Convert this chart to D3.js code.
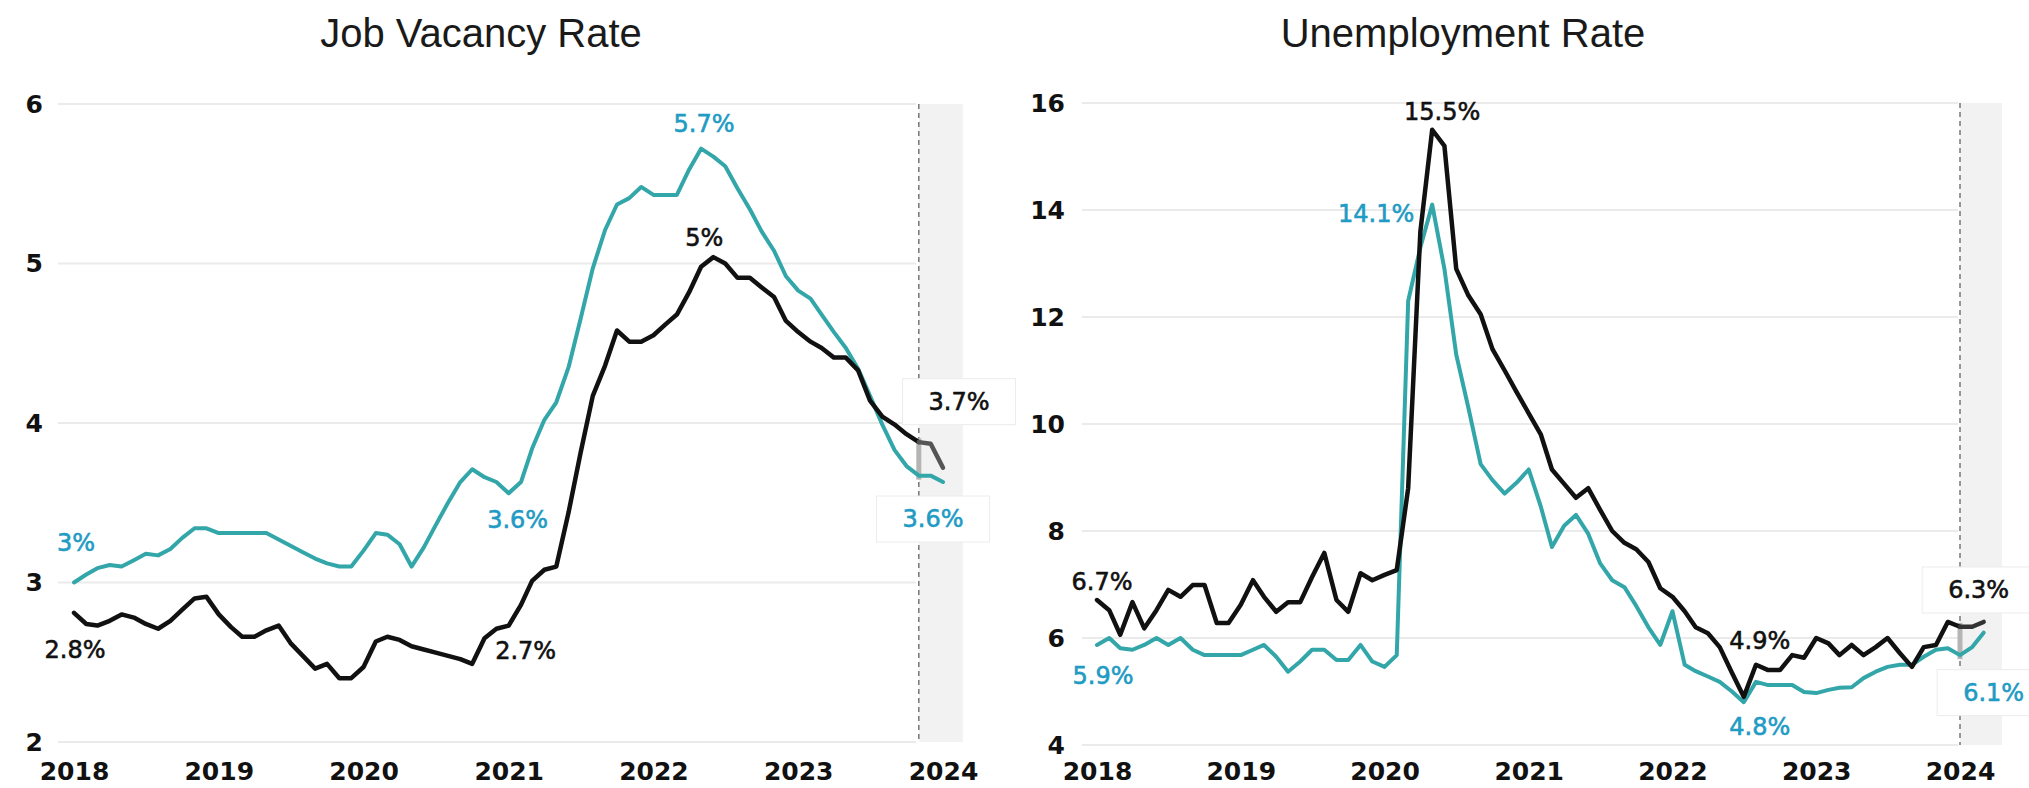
<!DOCTYPE html>
<html>
<head>
<meta charset="utf-8">
<script src="https://cdn.jsdelivr.net/npm/d3@7"></script>
<style>
  body { margin: 0; background: #fff; }
  svg text { font-family: "DejaVu Sans", sans-serif; }
  .title { font-family: "Liberation Sans", Arial, sans-serif; font-size: 40px; fill: #1a1a1a; }
  .tick text { font-family: "DejaVu Sans", sans-serif; font-weight: bold; font-size: 25px; fill: #111; }
  .lbl { font-size: 24px; }
</style>
</head>
<body>
<svg id="chart" width="2029" height="788"></svg>
<script>
// monthly values, starting Jan 2018
var vacancyTeal = [3.00,3.05,3.09,3.11,3.10,3.14,3.18,3.17,3.21,3.28,
  3.34,3.34,3.31,3.31,3.31,3.31,3.31,3.27,3.23,3.19,
  3.15,3.12,3.10,3.10,3.20,3.31,3.30,3.24,3.10,3.22,
  3.36,3.50,3.63,3.71,3.66,3.63,3.56,3.63,3.84,4.02,
  4.13,4.35,4.65,4.97,5.21,5.37,5.41,5.48,5.43,5.43,
  5.43,5.59,5.72,5.67,5.61,5.47,5.34,5.20,5.08,4.92,
  4.83,4.78,4.68,4.57,4.47,4.34,4.17,3.99,3.83,3.73,
  3.67,3.67,3.63];
var vacancyBlack = [2.81,2.74,2.73,2.76,2.80,2.78,2.74,2.71,2.76,2.83,
  2.90,2.91,2.80,2.72,2.66,2.66,2.70,2.73,2.62,2.54,
  2.46,2.49,2.40,2.40,2.47,2.63,2.66,2.64,2.60,2.58,
  2.56,2.54,2.52,2.49,2.65,2.71,2.73,2.86,3.01,3.08,
  3.10,3.44,3.81,4.17,4.36,4.58,4.51,4.51,4.55,4.62,
  4.68,4.82,4.98,5.04,5.00,4.91,4.91,4.85,4.79,4.64,
  4.57,4.51,4.47,4.41,4.41,4.33,4.14,4.04,3.99,3.93,
  3.88,3.87,3.72];
var unempTeal = [5.87,6.00,5.81,5.78,5.87,6.00,5.87,6.00,5.78,5.68,
  5.68,5.68,5.68,5.78,5.87,5.65,5.37,5.56,5.78,5.78,
  5.59,5.59,5.87,5.56,5.46,5.68,12.3,13.3,14.1,12.9,
  11.3,10.3,9.25,8.95,8.7,8.9,9.15,8.45,7.7,8.1,
  8.3,7.95,7.4,7.08,6.95,6.6,6.2,5.87,6.5,5.5,
  5.38,5.28,5.18,5.0,4.8,5.18,5.12,5.12,5.12,4.99,
  4.97,5.03,5.07,5.08,5.25,5.37,5.46,5.5,5.5,5.65,
  5.78,5.81,5.68,5.83,6.1];
var unempBlack = [6.71,6.52,6.06,6.67,6.18,6.52,6.90,6.77,6.99,6.99,
  6.28,6.28,6.62,7.08,6.77,6.49,6.67,6.67,7.14,7.59,
  6.71,6.49,7.21,7.08,7.18,7.27,8.8,13.6,15.5,15.2,
  12.9,12.4,12.05,11.4,11.0,10.6,10.2,9.8,9.15,8.88,
  8.62,8.8,8.4,8.0,7.78,7.66,7.42,6.93,6.77,6.5,
  6.2,6.09,5.83,5.35,4.9,5.5,5.4,5.4,5.68,5.63,
  6.0,5.9,5.68,5.87,5.68,5.83,6.0,5.72,5.46,5.83,
  5.87,6.3,6.21,6.21,6.3];

var titles = ["Job Vacancy Rate", "Unemployment Rate"];
var vacancyTicks = [2, 3, 4, 5, 6];
var unempTicks = [4, 6, 8, 10, 12, 14, 16];

// annotations: [series, month index, text]
var vacancyLabels = [["teal",0,"3%"],["black",0,"2.8%"],["teal",36,"3.6%"],["black",36,"2.7%"],
  ["teal",52,"5.7%"],["black",53,"5%"],["black",72,"3.7%"],["teal",72,"3.6%"]];
var unempLabels = [["black",28,"15.5%"],["teal",28,"14.1%"],["black",0,"6.7%"],["teal",0,"5.9%"],
  ["black",54,"4.9%"],["teal",54,"4.8%"],["black",74,"6.3%"],["teal",74,"6.1%"]];

var TEAL = "#33a6a9", TEAL_TXT = "#1f9bc4", INK = "#111";
var svg = d3.select("#chart");

function month(i) { return new Date(2018, i, 1); }

function panel(cfg) {
  var x = d3.scaleTime().domain([month(0), month(72)]).range(cfg.xr);
  var y = d3.scaleLinear().domain(cfg.yd).range(cfg.yr);
  var g = svg.append("g");

  g.append("text").attr("class", "title").attr("x", cfg.titleX).attr("y", 47)
    .attr("text-anchor", "middle").text(cfg.title);

  // gridlines
  g.selectAll(".grid").data(cfg.ticks).enter().append("line")
    .attr("x1", cfg.gridX[0]).attr("x2", cfg.gridX[1])
    .attr("y1", d => y(d)).attr("y2", d => y(d))
    .attr("stroke", "#ebebeb").attr("stroke-width", 2);

  // shaded latest period + dashed marker
  var xm = x(month(cfg.mark));
  g.append("rect").attr("x", xm).attr("y", y(cfg.yd[1]))
    .attr("width", cfg.bandW).attr("height", y(cfg.yd[0]) - y(cfg.yd[1]))
    .attr("fill", "#f2f2f2");
  g.append("line").attr("x1", xm).attr("x2", xm)
    .attr("y1", y(cfg.yd[1])).attr("y2", y(cfg.yd[0]))
    .attr("stroke", "#777").attr("stroke-width", 1.5).attr("stroke-dasharray", "5,4");
  g.append("rect").attr("x", xm - 2.5).attr("width", 5)
    .attr("y", y(Math.max(cfg.black[cfg.mark], cfg.teal[cfg.mark])) - 4)
    .attr("height", Math.abs(y(cfg.black[cfg.mark]) - y(cfg.teal[cfg.mark])) + 8)
    .attr("fill", "#b5b5b5");

  // axes
  var ya = g.append("g").attr("transform", "translate(" + cfg.yAxisX + ",0)")
    .call(d3.axisLeft(y).tickValues(cfg.ticks).tickFormat(d3.format("d")).tickSize(0).tickPadding(9));
  ya.select(".domain").remove();
  var xa = g.append("g").attr("transform", "translate(0," + y(cfg.yd[0]) + ")")
    .call(d3.axisBottom(x).ticks(d3.timeYear.every(1)).tickFormat(d3.timeFormat("%Y"))
      .tickSize(0).tickPadding(cfg.xPad));
  xa.select(".domain").remove();

  var line = d3.line().x(d => x(month(d.i))).y(d => y(d.v));
  function pts(arr, a, b) { return arr.map((v, i) => ({i: i, v: v})).slice(a, b); }

  g.append("path").datum(pts(cfg.teal, 0, cfg.teal.length)).attr("d", line)
    .attr("fill", "none").attr("stroke", TEAL).attr("stroke-width", 4)
    .attr("stroke-linejoin", "round").attr("stroke-linecap", "round");
  g.append("path").datum(pts(cfg.black, 0, cfg.mark + 1)).attr("d", line)
    .attr("fill", "none").attr("stroke", INK).attr("stroke-width", 4.5)
    .attr("stroke-linejoin", "round").attr("stroke-linecap", "round");
  g.append("path").datum(pts(cfg.black, cfg.mark, cfg.black.length)).attr("d", line)
    .attr("fill", "none").attr("stroke", cfg.tailInk).attr("stroke-width", 4.5)
    .attr("stroke-linejoin", "round").attr("stroke-linecap", "round");

  // value labels
  cfg.labels.forEach(function (l, k) {
    var s = l[0] === "teal" ? cfg.teal : cfg.black;
    var off = cfg.offsets[k];
    var t = g.append("text").attr("class", "lbl")
      .attr("x", x(month(l[1])) + off[0]).attr("y", y(s[l[1]]) + off[1])
      .attr("text-anchor", "middle").attr("dominant-baseline", "central")
      .attr("fill", l[0] === "teal" ? TEAL_TXT : INK)
      .attr("stroke", l[0] === "teal" ? TEAL_TXT : INK).attr("stroke-width", 0.6)
      .text(l[2]);
    if (off[2]) {
      var b = t.node().getBBox();
      g.insert("rect", function () { return t.node(); })
        .attr("x", b.x - 26).attr("y", b.y - 9).attr("width", b.width + 52).attr("height", b.height + 18)
        .attr("fill", "#fff").attr("stroke", "#ececec");
    }
  });
}

panel({
  title: titles[0], titleX: 481, xr: [74, 943], yd: [2, 6], yr: [742, 104],
  ticks: vacancyTicks, gridX: [58, 916], yAxisX: 52, xPad: 20, mark: 70, bandW: 44,
  teal: vacancyTeal, black: vacancyBlack, tailInk: "#555", labels: vacancyLabels,
  offsets: [[2,-40],[1,37],[9,27],[17,25],[3,-25],[-9,-19],[16,-66,1],[-10,37,1]]
});
panel({
  title: titles[1], titleX: 1463, xr: [1097, 1960], yd: [4, 16], yr: [745, 103],
  ticks: unempTicks, gridX: [1082, 1958], yAxisX: 1074, xPad: 17, mark: 72, bandW: 42,
  teal: unempTeal, black: unempBlack, tailInk: "#333", labels: unempLabels,
  offsets: [[10,-18],[-56,9],[5,-18],[6,31],[16,-56],[16,25],[-5,-32,1],[10,60,1]]
});
</script>
</body>
</html>
